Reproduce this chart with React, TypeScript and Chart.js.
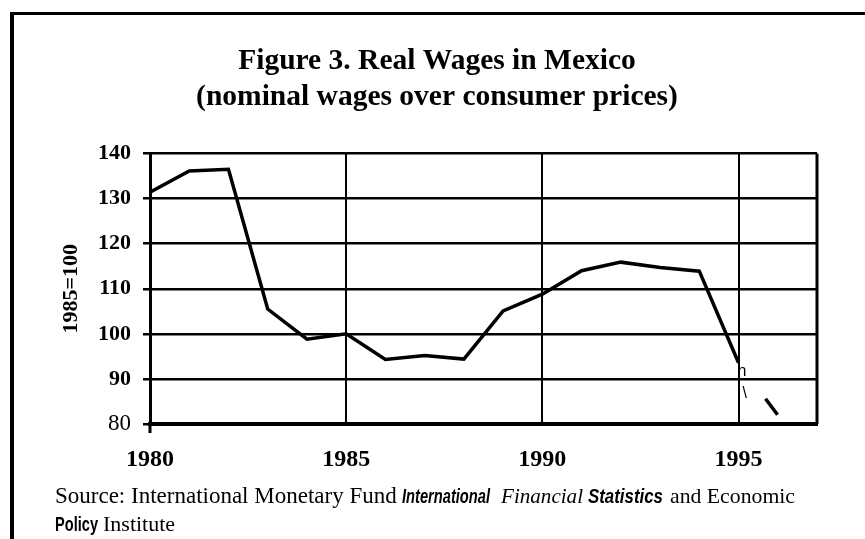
import React, { useEffect, useRef } from "react";
import { Chart, registerables } from "chart.js";

Chart.register(...registerables);

// ---- data ----
const YEARS = [1980, 1981, 1982, 1983, 1984, 1985, 1986, 1987, 1988, 1989, 1990, 1991, 1992, 1993, 1994, 1995, 1996];
const REAL_WAGES = [131.4, 136.1, 136.5, 105.5, 98.8, 100.0, 94.3, 95.2, 94.4, 105.1, 108.8, 114.0, 115.9, 114.7, 113.9, 93.6, 82.0];
const X_TICKS = [1980, 1985, 1990, 1995];
const Y_TICKS = [80, 90, 100, 110, 120, 130, 140];
const X_MIN = 1980;
const X_MAX = 1997;
const TITLE_LINES = ["Figure 3. Real Wages in Mexico", "(nominal wages over consumer prices)"];
const Y_TITLE = "1985=100";
const SOURCE_LINE1 = ["Source: International Monetary Fund", "International", "Financial", "Statistics", "and Economic"];
const SOURCE_LINE2 = ["Policy", "Institute"];

const SERIF = "'Liberation Serif', 'Times New Roman', serif";
const SANS = "'Liberation Sans', Arial, sans-serif";

const decorPlugin = {
  id: "decor",
  afterDraw(chart: any) {
    const ctx = chart.ctx as CanvasRenderingContext2D;
    const area = chart.chartArea;
    const xs = chart.scales.x;
    const ys = chart.scales.y;
    ctx.save();
    ctx.fillStyle = "#000";
    ctx.strokeStyle = "#000";

    // figure frame (top and left)
    ctx.lineWidth = 3;
    ctx.beginPath();
    ctx.moveTo(10, 13.5);
    ctx.lineTo(865, 13.5);
    ctx.stroke();
    ctx.lineWidth = 4;
    ctx.beginPath();
    ctx.moveTo(12, 12);
    ctx.lineTo(12, 539);
    ctx.stroke();

    // right edge of plot area
    ctx.lineWidth = 3;
    ctx.beginPath();
    ctx.moveTo(area.right, area.top);
    ctx.lineTo(area.right, area.bottom);
    ctx.stroke();

    // title
    ctx.textAlign = "center";
    ctx.textBaseline = "alphabetic";
    ctx.font = `bold 29.5px ${SERIF}`;
    ctx.fillText(TITLE_LINES[0], 437, 69);
    ctx.fillText(TITLE_LINES[1], 437, 105);

    // y axis title
    ctx.save();
    ctx.translate(71, (area.top + area.bottom) / 2);
    ctx.rotate(-Math.PI / 2);
    ctx.font = `bold 22px ${SERIF}`;
    ctx.textBaseline = "middle";
    ctx.fillText(Y_TITLE, 0, 0);
    ctx.restore();

    // scan artifacts near 1995
    const x95 = xs.getPixelForValue(1995);
    const y90 = ys.getPixelForValue(90);
    ctx.textAlign = "left";
    ctx.font = `16px ${SANS}`;
    ctx.fillText("n", x95 - 1, y90 - 3);
    ctx.fillText("\\", x95 + 4, y90 + 19);

    // source text
    ctx.textAlign = "left";
    ctx.textBaseline = "alphabetic";
    const runs1 = [
      { f: `23px ${SERIF}`, x: 55, w: 347 },
      { f: `italic bold 20px ${SANS}`, x: 402, w: 88 },
      { f: `italic 22px ${SERIF}`, x: 501, w: 82 },
      { f: `italic bold 20px ${SANS}`, x: 588, w: 75 },
      { f: `22px ${SERIF}`, x: 670, w: 125 },
    ];
    runs1.forEach((r, i) => {
      ctx.font = r.f;
      ctx.fillText(SOURCE_LINE1[i], r.x, 503, r.w);
    });
    const runs2 = [
      { f: `bold 20px ${SANS}`, x: 55, w: 43 },
      { f: `22px ${SERIF}`, x: 103, w: 80 },
    ];
    runs2.forEach((r, i) => {
      ctx.font = r.f;
      ctx.fillText(SOURCE_LINE2[i], r.x, 531, r.w);
    });
    ctx.restore();
  },
};

export default function App() {
  const ref = useRef<HTMLCanvasElement | null>(null);

  useEffect(() => {
    if (!ref.current) return;
    const lastSeg = YEARS.length - 2;
    const chart = new Chart(ref.current, {
      type: "line",
      data: {
        datasets: [
          {
            data: YEARS.map((x, i) => ({ x, y: REAL_WAGES[i] })),
            borderColor: "#000",
            borderWidth: 3.5,
            pointRadius: 0,
            tension: 0,
            fill: false,
            segment: {
              borderDash: (c: any) => (c.p0DataIndex === lastSeg ? [0, 45, 20, 200] : undefined),
            },
          },
        ],
      },
      options: {
        responsive: false,
        animation: false,
        layout: { padding: { left: 0, top: 153.5, right: 48, bottom: 0 } },
        plugins: { legend: { display: false }, tooltip: { enabled: false }, title: { display: false } },
        scales: {
          x: {
            type: "linear",
            min: X_MIN,
            max: X_MAX,
            afterBuildTicks: (s: any) => {
              s.ticks = X_TICKS.map((v) => ({ value: v }));
            },
            afterFit: (s: any) => {
              s.height = 115;
            },
            ticks: {
              color: "#000",
              font: { family: SERIF, size: 24, weight: "bold" },
              padding: 12,
              maxRotation: 0,
              autoSkip: false,
              callback: (v: any) => String(v),
            },
            grid: {
              color: "#000",
              lineWidth: 2,
              drawTicks: true,
              tickLength: 9,
              tickColor: (c: any) => (c.tick && c.tick.value === 1980 ? "#000" : "rgba(0,0,0,0)"),
              tickWidth: 3,
            },
            border: { color: "#000", width: 4 },
          },
          y: {
            min: 80,
            max: 140,
            afterBuildTicks: (s: any) => {
              s.ticks = Y_TICKS.map((v) => ({ value: v }));
            },
            afterFit: (s: any) => {
              s.width = 150;
            },
            ticks: {
              color: "#000",
              padding: 12,
              font: (c: any) =>
                c.tick && c.tick.value === 80
                  ? { family: SERIF, size: 23, weight: "normal" }
                  : { family: SERIF, size: 22, weight: "bold" },
            },
            grid: { color: "#000", lineWidth: 2.5, tickLength: 7 },
            border: { color: "#000", width: 3 },
          },
        },
      },
      plugins: [decorPlugin],
    });
    return () => chart.destroy();
  }, []);

  return (
    <div style={{ position: "fixed", left: 0, top: 0, width: 865, height: 539, background: "#fff" }}>
      <canvas ref={ref} width={865} height={539} style={{ display: "block", width: 865, height: 539 }} />
    </div>
  );
}
